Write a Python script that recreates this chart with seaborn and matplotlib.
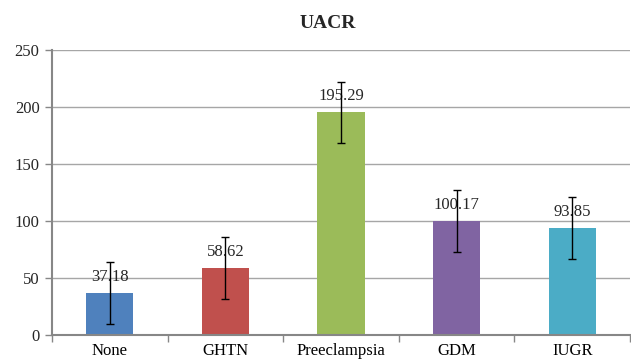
import pandas as pd
import matplotlib.pyplot as plt
import seaborn as sns

groups = ['None', 'GHTN', 'Preeclampsia', 'GDM', 'IUGR']
uacr = [37.18, 58.62, 195.29, 100.17, 93.85]
err = [27.2, 27.3, 26.8, 27.4, 27.2]
colors = ['#4F81BD', '#C0504D', '#9BBB59', '#8064A2', '#4BACC6']

df = pd.DataFrame({'group': groups, 'uacr': uacr})

sns.set_theme(style="white")
plt.rcParams['font.family'] = ['Liberation Serif', 'DejaVu Serif']

fig = plt.figure(figsize=(6.31, 3.64), dpi=100)
ax = fig.add_axes([52 / 631, 1 - 335 / 364, 578 / 631, 285 / 364])

sns.barplot(data=df, x='group', y='uacr', hue='group', palette=colors,
            width=0.41, legend=False, ax=ax, saturation=1, linewidth=0)
ax.errorbar(range(len(groups)), uacr, yerr=err, fmt='none', ecolor='black',
            elinewidth=1, capsize=3, capthick=1, zorder=5)

for i, v in enumerate(uacr):
    ax.text(i, v + 7, f'{v:.2f}', ha='center', va='bottom', fontsize=12, zorder=4)

ax.set_ylim(0, 250)
ax.set_xlim(-0.5, 4.5)
ax.set_yticks(range(0, 251, 50))
ax.yaxis.grid(True, color='#a6a6a6', linewidth=1)
ax.set_axisbelow(True)
ax.set_xlabel('')
ax.set_ylabel('')
fig.text(328 / 631, 1 - 24 / 364, 'UACR', fontsize=14, fontweight='bold',
         ha='center', va='center')

for s in ['top', 'right']:
    ax.spines[s].set_visible(False)
for s in ['left', 'bottom']:
    ax.spines[s].set_color('#878787')
    ax.spines[s].set_linewidth(1.5)

ax.set_xticks([i - 0.5 for i in range(6)], minor=True)
ax.tick_params(axis='x', which='major', length=0, labelsize=12, pad=6, colors='black')
ax.tick_params(axis='x', which='minor', length=5, color='#878787', width=1, direction='out', bottom=True)
ax.tick_params(axis='y', length=5, color='#878787', width=1, direction='out', left=True,
               labelsize=12, pad=4)

fig.savefig('out.png', dpi=100)
